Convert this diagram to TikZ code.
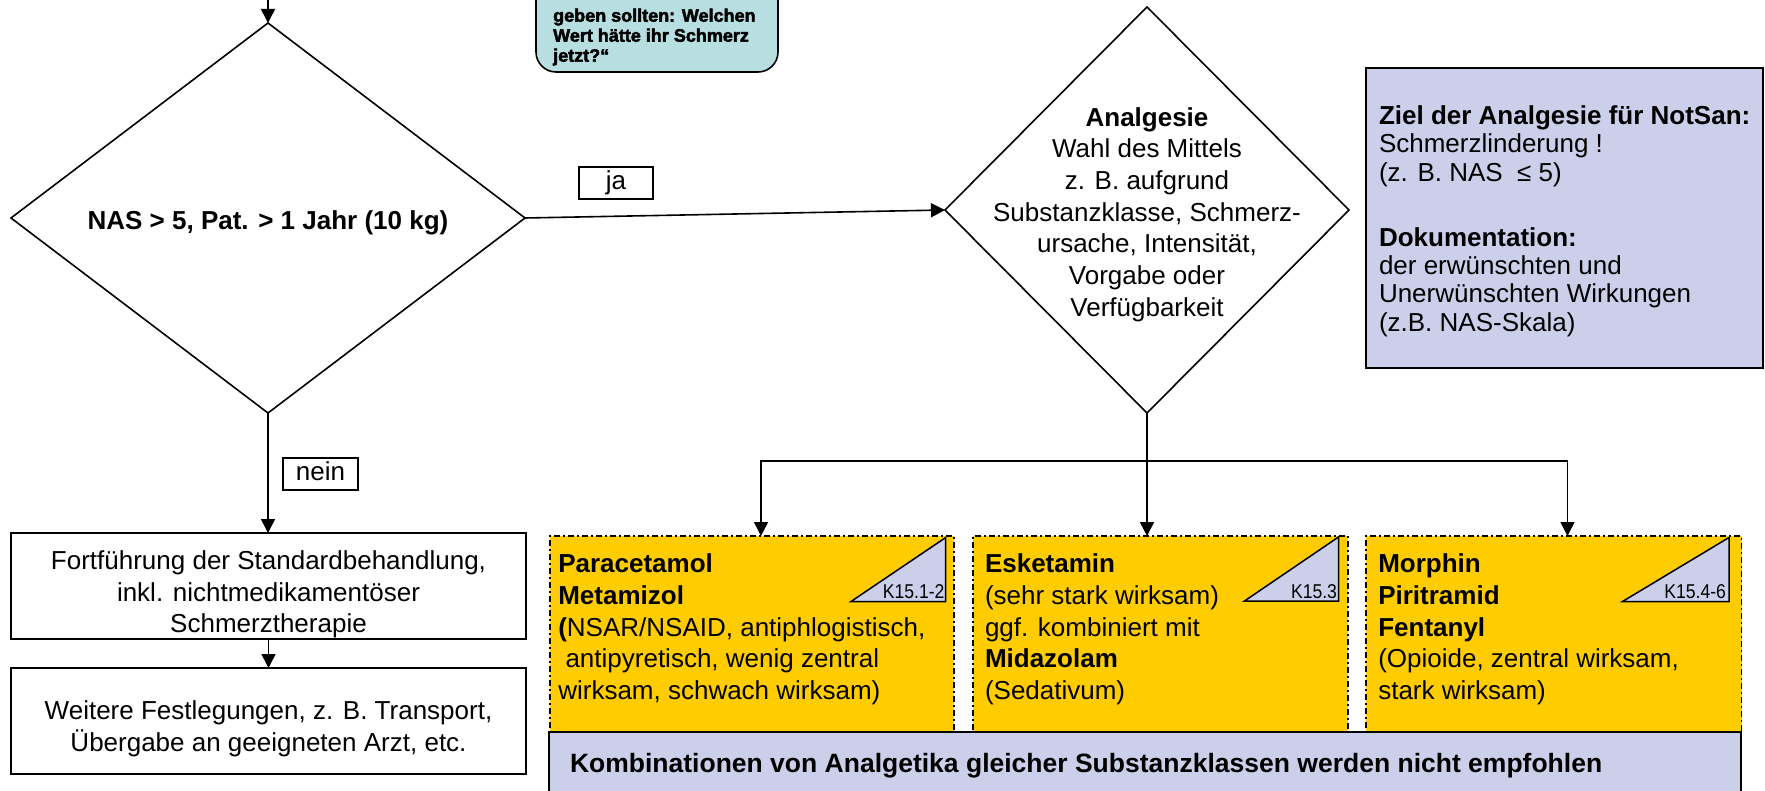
\documentclass[tikz,border=0pt]{standalone}
\usepackage{fontspec}
\usepackage{graphicx}
\setmainfont{Liberation Sans}
\newfontfamily\heavyfont{Liberation Sans Bold}[FakeBold=2.5]
\usetikzlibrary{shapes.geometric,arrows.meta,calc}

% font sizes (1pt = one unit of the drawing grid)
\newcommand\fs{\fontsize{26}{31.7}\selectfont}
\newcommand\fsnote{\fontsize{26.5}{31.7}\selectfont}
\newcommand\fsinfo{\fontsize{26}{28.3}\selectfont}
\newcommand\fstag{\fontsize{20}{22}\selectfont}
\newcommand\fscall{\fontsize{18}{20}\selectfont}

\definecolor{gold}{RGB}{255,204,0}
\definecolor{lav}{RGB}{204,207,234}
\definecolor{aqua}{RGB}{183,222,224}

\begin{document}
\begin{tikzpicture}[x=1pt,y=-1pt,
  arr/.style={-{Triangle[length=14pt,width=14pt]}, line width=1.6pt},
  frame/.style={draw, line width=1.6pt, inner sep=0, outer sep=0},
  dia/.style={diamond, draw, line width=1.6pt, inner sep=0, outer sep=0},
  drug/.style={draw, line width=1.8pt, fill=gold, inner sep=0, outer sep=0,
    dash pattern=on 6pt off 3pt on 2pt off 3pt},
  tri/.style={fill=lav, draw, line width=1.5pt, line join=miter},
  txt/.style={inner sep=0, outer sep=0, font=\fs, align=left, anchor=north west},
  ctxt/.style={inner sep=0, outer sep=0, font=\fs, align=center, anchor=north},
  tag/.style={inner sep=0, outer sep=0, font=\fstag, anchor=base east},
  answer/.style={draw, line width=1.4pt, fill=white, inner sep=0, outer sep=0,
    font=\fs, text height=18.6pt, text depth=5.4pt}
]
\clip (0,0) rectangle (1765,791);
\fill[white] (0,0) rectangle (1765,791);

% question bubble at the top
\node[frame, fill=aqua, rounded corners=20pt, minimum width=242pt, minimum height=112pt] (ask) at (657,16) {};
\node[inner sep=0, font=\fscall\heavyfont, align=left, anchor=north west] (askt) at (553,7.5)
  {\strut geben sollten: Welchen\\Wert hätte ihr Schmerz\\jetzt?“};

% decisions
\node[dia, minimum width=514pt, minimum height=390pt] (d1) at (268,218) {};
\node[ctxt, font=\fs\bfseries] (d1t) at (268,207.2) {\strut NAS > 5, Pat. > 1 Jahr (10 kg)};

\node[dia, minimum width=404pt, minimum height=406pt] (d2) at (1147,210) {};
\node[ctxt] (d2t) at (1147,103.9)
  {\strut\textbf{Analgesie}\\Wahl des Mittels\\z. B. aufgrund\\Substanzklasse, Schmerz-\\ursache, Intensität,\\Vorgabe oder\\Verfügbarkeit};

% goal / documentation box
\node[frame, fill=lav, minimum width=397pt, minimum height=300pt] (goal) at (1564.5,218) {};
\node[txt, font=\fsinfo] (goal1) at (1379,104.6)
  {\strut\textbf{Ziel der Analgesie für NotSan:}\\Schmerzlinderung !\\(z. B. NAS\ \ ≤ 5)};
\node[txt, font=\fsinfo] (goal2) at (1379,226.3)
  {\strut\textbf{Dokumentation:}\\der erwünschten und\\Unerwünschten Wirkungen\\(z.B. NAS-Skala)};

% "nein" branch
\node[frame, minimum width=515pt, minimum height=106pt] (b1) at (268.5,586) {};
\node[ctxt] (b1t) at (268.5,547.2)
  {\strut Fortführung der Standardbehandlung,\\inkl. nichtmedikamentöser\\Schmerztherapie};
\node[frame, minimum width=515pt, minimum height=106pt] (b2) at (268.5,721) {};
\node[ctxt] (b2t) at (268.5,697.2)
  {\strut Weitere Festlegungen, z. B. Transport,\\Übergabe an geeigneten Arzt, etc.};

% substance classes
\node[drug, minimum width=404pt, minimum height=196pt] (y1) at (752,634) {};
\node[drug, minimum width=375pt, minimum height=196pt] (y2) at (1160.5,634) {};
\node[drug, minimum width=375.5pt, minimum height=197pt] (y3) at (1553.75,634.5) {};

\filldraw[tri] (851,601.5) -- (945.7,601.5) -- (945.7,537.5) -- cycle;
\filldraw[tri] (1244.5,601) -- (1338.5,601) -- (1338.5,537) -- cycle;
\filldraw[tri] (1622.5,601.5) -- (1729,601.5) -- (1729,537.5) -- cycle;
\node[tag] (k1) at (944.5,598.5) {\scalebox{0.88}[1]{K15.1-2}};
\node[tag] (k2) at (1337,598.5) {\scalebox{0.88}[1]{K15.3}};
\node[tag] (k3) at (1726,598.5) {\scalebox{0.88}[1]{K15.4-6}};

\node[txt] (y1t) at (558.3,550.5)
  {\strut\textbf{Paracetamol}\\\textbf{Metamizol}\\\textbf{(}NSAR/NSAID, antiphlogistisch,\\\ antipyretisch, wenig zentral\\wirksam, schwach wirksam)};
\node[txt] (y2t) at (985,550.5)
  {\strut\textbf{Esketamin}\\(sehr stark wirksam)\\ggf. kombiniert mit\\\textbf{Midazolam}\\(Sedativum)};
\node[txt] (y3t) at (1378.3,550.5)
  {\strut\textbf{Morphin}\\\textbf{Piritramid}\\\textbf{Fentanyl}\\(Opioide, zentral wirksam,\\stark wirksam)};

% note below the substance classes
\node[frame, fill=lav, minimum width=1192pt, minimum height=80pt] (combo) at (1145,772) {};
\node[txt, font=\fsnote\bfseries] (combot) at (570,750.5)
  {\strut Kombinationen von Analgetika gleicher Substanzklassen werden nicht empfohlen};

% connectors
\coordinate (entry) at (268,-5);
\coordinate (br) at (1147,461);
\draw[arr] (entry) -- (d1.north);
\draw[arr] (d1.east) -- (d2.west);
\draw[arr] (d1.south) -- (d1.south |- b1.north);
\draw[arr] (b1.south) -- (b2.north);
\draw[arr] (d2.south) -- (d2.south |- y2.north);
\draw[arr] (br) -| ([xshift=9pt]y1.north);
\draw[arr] (br) -| ([xshift=13.75pt]y3.north);

% answer labels
\node[answer, minimum width=74pt, minimum height=32pt] (ja) at (616,183) {ja};
\node[answer, minimum width=75pt, minimum height=32pt] (nein) at (320.5,474) {nein};
\end{tikzpicture}
\end{document}
